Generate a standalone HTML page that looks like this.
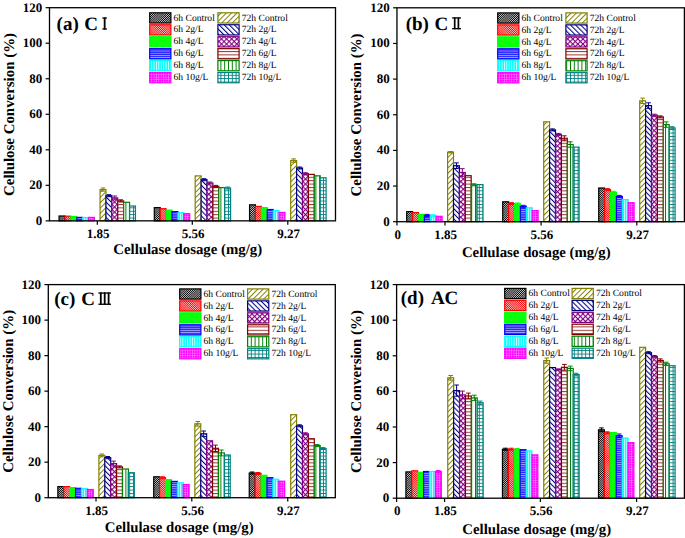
<!DOCTYPE html>
<html><head><meta charset="utf-8"><style>
html,body{margin:0;padding:0;background:#fff;}
svg{display:block;}
</style></head><body>
<svg width="685" height="538" viewBox="0 0 685 538" text-rendering="geometricPrecision">
<defs>
<pattern id="p60" patternUnits="userSpaceOnUse" width="1.5" height="1.5" patternTransform="rotate(45)"><rect width="1.5" height="1.5" fill="#000"/><rect x="0" width="0.7" height="1.5" fill="#fff" fill-opacity="0.85"/></pattern>
<pattern id="p61" patternUnits="userSpaceOnUse" width="1.5" height="1.5" patternTransform="rotate(-45)"><rect width="1.5" height="1.5" fill="#f00"/><rect x="0" width="0.65" height="1.5" fill="#fff" fill-opacity="0.85"/></pattern>
<pattern id="p62" patternUnits="userSpaceOnUse" width="2" height="2"><rect width="2" height="2" fill="#0f0"/><rect x="0.5" y="0.5" width="1" height="1" fill="#fff" fill-opacity="0.18"/></pattern>
<pattern id="p63" patternUnits="userSpaceOnUse" width="3" height="2.2"><rect width="3" height="2.2" fill="#22f"/><rect y="0" width="3" height="0.9" fill="#fff" fill-opacity="0.6"/></pattern>
<pattern id="p64" patternUnits="userSpaceOnUse" width="2.4" height="3"><rect width="2.4" height="3" fill="#0ff"/><rect x="0" width="0.9" height="3" fill="#fff" fill-opacity="0.85"/></pattern>
<pattern id="p65" patternUnits="userSpaceOnUse" width="2.4" height="2.4"><rect width="2.4" height="2.4" fill="#f0f"/><rect x="0" width="0.6" height="2.4" fill="#fff" fill-opacity="0.45"/><rect y="0" width="2.4" height="0.6" fill="#fff" fill-opacity="0.45"/></pattern>
<pattern id="p70" patternUnits="userSpaceOnUse" width="3.75" height="3.75" patternTransform="rotate(45)"><rect width="3.75" height="3.75" fill="#fff"/><rect x="0" width="1.0" height="3.75" fill="#808000"/></pattern>
<pattern id="p71" patternUnits="userSpaceOnUse" width="3.6" height="3.6" patternTransform="rotate(-45)"><rect width="3.6" height="3.6" fill="#fff"/><rect x="0" width="1.05" height="3.6" fill="#000080"/></pattern>
<pattern id="p72" patternUnits="userSpaceOnUse" width="3.6" height="3.6" patternTransform="rotate(45)"><rect width="3.6" height="3.6" fill="#fff"/><rect x="0" width="1.1" height="3.6" fill="#800080"/><rect y="0" width="3.6" height="1.1" fill="#800080"/></pattern>
<pattern id="p73" patternUnits="userSpaceOnUse" width="4" height="3.4"><rect width="4" height="3.4" fill="#fff"/><rect y="0" width="4" height="1.0" fill="#800000" fill-opacity="0.8"/></pattern>
<pattern id="p74" patternUnits="userSpaceOnUse" width="3.8" height="4"><rect width="3.8" height="4" fill="#fff"/><rect x="0" width="1.0" height="4" fill="#008000"/></pattern>
<pattern id="p75" patternUnits="userSpaceOnUse" width="3.8" height="3.4"><rect width="3.8" height="3.4" fill="#fff"/><rect x="0" width="0.9" height="3.4" fill="#008080"/><rect y="0" width="3.8" height="0.9" fill="#008080"/></pattern>
</defs>
<rect width="685" height="538" fill="#fff"/>
<rect x="59.05" y="216" width="5.9" height="4.85" fill="url(#p60)" stroke="#000000" stroke-width="1.2"/>
<rect x="64.95" y="216.2" width="5.9" height="4.65" fill="url(#p61)" stroke="#ff0000" stroke-width="1.2"/>
<rect x="70.85" y="216.6" width="5.9" height="4.25" fill="url(#p62)" stroke="#00ff00" stroke-width="1.2"/>
<rect x="76.75" y="217.4" width="5.9" height="3.45" fill="url(#p63)" stroke="#0000ff" stroke-width="1.2"/>
<rect x="82.65" y="217.5" width="5.9" height="3.35" fill="url(#p64)" stroke="#00ffff" stroke-width="1.2"/>
<rect x="88.55" y="217.4" width="5.9" height="3.45" fill="url(#p65)" stroke="#ff00ff" stroke-width="1.2"/>
<rect x="100.05" y="189.6" width="5.9" height="31.25" fill="url(#p70)" stroke="#808000" stroke-width="1.2"/>
<path d="M103 188V191.2M100.7 188H105.3M100.7 191.2H105.3" stroke="#808000" stroke-width="1" fill="none"/>
<rect x="105.95" y="195.7" width="5.9" height="25.15" fill="url(#p71)" stroke="#000080" stroke-width="1.2"/>
<path d="M108.9 194.7V196.7M106.6 194.7H111.2M106.6 196.7H111.2" stroke="#000080" stroke-width="1" fill="none"/>
<rect x="111.85" y="197.9" width="5.9" height="22.95" fill="url(#p72)" stroke="#800080" stroke-width="1.2"/>
<path d="M114.8 196V199.8M112.5 196H117.1M112.5 199.8H117.1" stroke="#800080" stroke-width="1" fill="none"/>
<rect x="117.75" y="200.9" width="5.9" height="19.95" fill="url(#p73)" stroke="#800000" stroke-width="1.2"/>
<path d="M120.7 199.8V202M118.4 199.8H123M118.4 202H123" stroke="#800000" stroke-width="1" fill="none"/>
<rect x="123.65" y="202.3" width="5.9" height="18.55" fill="url(#p74)" stroke="#008000" stroke-width="1.2"/>
<rect x="129.55" y="206" width="5.9" height="14.85" fill="url(#p75)" stroke="#008080" stroke-width="1.2"/>
<rect x="154.3" y="207.6" width="5.9" height="13.25" fill="url(#p60)" stroke="#000000" stroke-width="1.2"/>
<rect x="160.2" y="208.7" width="5.9" height="12.15" fill="url(#p61)" stroke="#ff0000" stroke-width="1.2"/>
<rect x="166.1" y="210.1" width="5.9" height="10.75" fill="url(#p62)" stroke="#00ff00" stroke-width="1.2"/>
<rect x="172" y="211.6" width="5.9" height="9.25" fill="url(#p63)" stroke="#0000ff" stroke-width="1.2"/>
<rect x="177.9" y="212.7" width="5.9" height="8.15" fill="url(#p64)" stroke="#00ffff" stroke-width="1.2"/>
<rect x="183.8" y="213.7" width="5.9" height="7.15" fill="url(#p65)" stroke="#ff00ff" stroke-width="1.2"/>
<rect x="195.2" y="175.9" width="5.9" height="44.95" fill="url(#p70)" stroke="#808000" stroke-width="1.2"/>
<rect x="201.1" y="179.7" width="5.9" height="41.15" fill="url(#p71)" stroke="#000080" stroke-width="1.2"/>
<path d="M204.05 178.7V180.7M201.75 178.7H206.35M201.75 180.7H206.35" stroke="#000080" stroke-width="1" fill="none"/>
<rect x="207" y="183" width="5.9" height="37.85" fill="url(#p72)" stroke="#800080" stroke-width="1.2"/>
<path d="M209.95 182V184M207.65 182H212.25M207.65 184H212.25" stroke="#800080" stroke-width="1" fill="none"/>
<rect x="212.9" y="186.4" width="5.9" height="34.45" fill="url(#p73)" stroke="#800000" stroke-width="1.2"/>
<path d="M215.85 185.4V187.4M213.55 185.4H218.15M213.55 187.4H218.15" stroke="#800000" stroke-width="1" fill="none"/>
<rect x="218.8" y="187.6" width="5.9" height="33.25" fill="url(#p74)" stroke="#008000" stroke-width="1.2"/>
<rect x="224.7" y="188" width="5.9" height="32.85" fill="url(#p75)" stroke="#008080" stroke-width="1.2"/>
<path d="M227.65 187V189M225.35 187H229.95M225.35 189H229.95" stroke="#008080" stroke-width="1" fill="none"/>
<rect x="249.55" y="204.8" width="5.9" height="16.05" fill="url(#p60)" stroke="#000000" stroke-width="1.2"/>
<rect x="255.45" y="206.4" width="5.9" height="14.45" fill="url(#p61)" stroke="#ff0000" stroke-width="1.2"/>
<rect x="261.35" y="207.6" width="5.9" height="13.25" fill="url(#p62)" stroke="#00ff00" stroke-width="1.2"/>
<rect x="267.25" y="209.5" width="5.9" height="11.35" fill="url(#p63)" stroke="#0000ff" stroke-width="1.2"/>
<rect x="273.15" y="210.6" width="5.9" height="10.25" fill="url(#p64)" stroke="#00ffff" stroke-width="1.2"/>
<rect x="279.05" y="212.4" width="5.9" height="8.45" fill="url(#p65)" stroke="#ff00ff" stroke-width="1.2"/>
<rect x="290.7" y="160.6" width="5.9" height="60.25" fill="url(#p70)" stroke="#808000" stroke-width="1.2"/>
<path d="M293.65 158.9V162.3M291.35 158.9H295.95M291.35 162.3H295.95" stroke="#808000" stroke-width="1" fill="none"/>
<rect x="296.6" y="168" width="5.9" height="52.85" fill="url(#p71)" stroke="#000080" stroke-width="1.2"/>
<path d="M299.55 167V169M297.25 167H301.85M297.25 169H301.85" stroke="#000080" stroke-width="1" fill="none"/>
<rect x="302.5" y="173.7" width="5.9" height="47.15" fill="url(#p72)" stroke="#800080" stroke-width="1.2"/>
<path d="M305.45 172.7V174.7M303.15 172.7H307.75M303.15 174.7H307.75" stroke="#800080" stroke-width="1" fill="none"/>
<rect x="308.4" y="174.4" width="5.9" height="46.45" fill="url(#p73)" stroke="#800000" stroke-width="1.2"/>
<rect x="314.3" y="175.8" width="5.9" height="45.05" fill="url(#p74)" stroke="#008000" stroke-width="1.2"/>
<rect x="320.2" y="177.8" width="5.9" height="43.05" fill="url(#p75)" stroke="#008080" stroke-width="1.2"/>
<rect x="49.5" y="7.7" width="286" height="213.15" fill="none" stroke="#000" stroke-width="1.3"/>
<path d="M45.6 220.85H49.5" stroke="#000" stroke-width="1.2"/>
<text x="42.2" y="224.75" text-anchor="end" font-size="13" font-weight="bold" font-family="'Liberation Serif', serif">0</text>
<path d="M45.6 185.32H49.5" stroke="#000" stroke-width="1.2"/>
<text x="42.2" y="189.22" text-anchor="end" font-size="13" font-weight="bold" font-family="'Liberation Serif', serif">20</text>
<path d="M45.6 149.8H49.5" stroke="#000" stroke-width="1.2"/>
<text x="42.2" y="153.7" text-anchor="end" font-size="13" font-weight="bold" font-family="'Liberation Serif', serif">40</text>
<path d="M45.6 114.27H49.5" stroke="#000" stroke-width="1.2"/>
<text x="42.2" y="118.17" text-anchor="end" font-size="13" font-weight="bold" font-family="'Liberation Serif', serif">60</text>
<path d="M45.6 78.75H49.5" stroke="#000" stroke-width="1.2"/>
<text x="42.2" y="82.65" text-anchor="end" font-size="13" font-weight="bold" font-family="'Liberation Serif', serif">80</text>
<path d="M45.6 43.22H49.5" stroke="#000" stroke-width="1.2"/>
<text x="42.2" y="47.12" text-anchor="end" font-size="13" font-weight="bold" font-family="'Liberation Serif', serif">100</text>
<path d="M45.6 7.7H49.5" stroke="#000" stroke-width="1.2"/>
<text x="42.2" y="11.6" text-anchor="end" font-size="13" font-weight="bold" font-family="'Liberation Serif', serif">120</text>
<path d="M97.3 220.85V224.75" stroke="#000" stroke-width="1.2"/>
<text x="98" y="237.95" text-anchor="middle" font-size="13" font-weight="bold" font-family="'Liberation Serif', serif">1.85</text>
<path d="M192.3 220.85V224.75" stroke="#000" stroke-width="1.2"/>
<text x="193" y="237.95" text-anchor="middle" font-size="13" font-weight="bold" font-family="'Liberation Serif', serif">5.56</text>
<path d="M287.8 220.85V224.75" stroke="#000" stroke-width="1.2"/>
<text x="288.5" y="237.95" text-anchor="middle" font-size="13" font-weight="bold" font-family="'Liberation Serif', serif">9.27</text>
<text x="113.3" y="254.3" font-size="14.8" font-weight="bold" font-family="'Liberation Serif', serif">Cellulase dosage (mg/g)</text>
<text transform="translate(14,114.47) rotate(-90)" x="0" y="0" text-anchor="middle" font-size="14.9" font-weight="bold" font-family="'Liberation Serif', serif">Cellulose Conversion (%)</text>
<text x="56.6" y="29.6" font-size="19" font-weight="bold" font-family="'Liberation Serif', serif">(a)</text>
<text x="84.3" y="29.6" font-size="19" font-weight="bold" font-family="'Liberation Serif', serif">C</text>
<rect x="103.75" y="17.4" width="1.8" height="12.2" fill="#000"/>
<rect x="102.4" y="17.4" width="4.5" height="1.3" fill="#000"/>
<rect x="102.4" y="28.3" width="4.5" height="1.3" fill="#000"/>
<rect x="149.7" y="12.8" width="21.2" height="10.2" fill="url(#p60)" stroke="#000000" stroke-width="1.2"/>
<text x="173.5" y="20.5" font-size="9.6" font-family="'Liberation Serif', serif" fill="#000">6h Control</text>
<rect x="217.9" y="12.8" width="21.2" height="10.2" fill="url(#p70)" stroke="#808000" stroke-width="1.2"/>
<text x="241.7" y="20.5" font-size="9.6" font-family="'Liberation Serif', serif" fill="#000">72h Control</text>
<rect x="149.7" y="24.75" width="21.2" height="10.2" fill="url(#p61)" stroke="#ff0000" stroke-width="1.2"/>
<text x="173.5" y="32.45" font-size="9.6" font-family="'Liberation Serif', serif" fill="#000">6h 2g/L</text>
<rect x="217.9" y="24.75" width="21.2" height="10.2" fill="url(#p71)" stroke="#000080" stroke-width="1.2"/>
<text x="241.7" y="32.45" font-size="9.6" font-family="'Liberation Serif', serif" fill="#000">72h 2g/L</text>
<rect x="149.7" y="36.7" width="21.2" height="10.2" fill="url(#p62)" stroke="#00ff00" stroke-width="1.2"/>
<text x="173.5" y="44.4" font-size="9.6" font-family="'Liberation Serif', serif" fill="#000">6h 4g/L</text>
<rect x="217.9" y="36.7" width="21.2" height="10.2" fill="url(#p72)" stroke="#800080" stroke-width="1.2"/>
<text x="241.7" y="44.4" font-size="9.6" font-family="'Liberation Serif', serif" fill="#000">72h 4g/L</text>
<rect x="149.7" y="48.65" width="21.2" height="10.2" fill="url(#p63)" stroke="#0000ff" stroke-width="1.2"/>
<text x="173.5" y="56.35" font-size="9.6" font-family="'Liberation Serif', serif" fill="#000">6h 6g/L</text>
<rect x="217.9" y="48.65" width="21.2" height="10.2" fill="url(#p73)" stroke="#800000" stroke-width="1.2"/>
<text x="241.7" y="56.35" font-size="9.6" font-family="'Liberation Serif', serif" fill="#000">72h 6g/L</text>
<rect x="149.7" y="60.6" width="21.2" height="10.2" fill="url(#p64)" stroke="#00ffff" stroke-width="1.2"/>
<text x="173.5" y="68.3" font-size="9.6" font-family="'Liberation Serif', serif" fill="#000">6h 8g/L</text>
<rect x="217.9" y="60.6" width="21.2" height="10.2" fill="url(#p74)" stroke="#008000" stroke-width="1.2"/>
<text x="241.7" y="68.3" font-size="9.6" font-family="'Liberation Serif', serif" fill="#000">72h 8g/L</text>
<rect x="149.7" y="72.55" width="21.2" height="10.2" fill="url(#p65)" stroke="#ff00ff" stroke-width="1.2"/>
<text x="173.5" y="80.25" font-size="9.6" font-family="'Liberation Serif', serif" fill="#000">6h 10g/L</text>
<rect x="217.9" y="72.55" width="21.2" height="10.2" fill="url(#p75)" stroke="#008080" stroke-width="1.2"/>
<text x="241.7" y="80.25" font-size="9.6" font-family="'Liberation Serif', serif" fill="#000">72h 10g/L</text>
<rect x="406.7" y="211.6" width="5.9" height="10.1" fill="url(#p60)" stroke="#000000" stroke-width="1.2"/>
<rect x="412.6" y="212.6" width="5.9" height="9.1" fill="url(#p61)" stroke="#ff0000" stroke-width="1.2"/>
<rect x="418.5" y="214.3" width="5.9" height="7.4" fill="url(#p62)" stroke="#00ff00" stroke-width="1.2"/>
<rect x="424.4" y="215.4" width="5.9" height="6.3" fill="url(#p63)" stroke="#0000ff" stroke-width="1.2"/>
<path d="M427.35 214.4V216.4M425.05 214.4H429.65M425.05 216.4H429.65" stroke="#0000ff" stroke-width="1" fill="none"/>
<rect x="430.3" y="215.7" width="5.9" height="6" fill="url(#p64)" stroke="#00ffff" stroke-width="1.2"/>
<path d="M433.25 214.7V216.7M430.95 214.7H435.55M430.95 216.7H435.55" stroke="#00ffff" stroke-width="1" fill="none"/>
<rect x="436.2" y="216.3" width="5.9" height="5.4" fill="url(#p65)" stroke="#ff00ff" stroke-width="1.2"/>
<rect x="447.6" y="152.2" width="5.9" height="69.5" fill="url(#p70)" stroke="#808000" stroke-width="1.2"/>
<path d="M450.55 151.5V152.9M448.25 151.5H452.85M448.25 152.9H452.85" stroke="#808000" stroke-width="1" fill="none"/>
<rect x="453.5" y="165.7" width="5.9" height="56" fill="url(#p71)" stroke="#000080" stroke-width="1.2"/>
<path d="M456.45 162.9V168.5M454.15 162.9H458.75M454.15 168.5H458.75" stroke="#000080" stroke-width="1" fill="none"/>
<rect x="459.4" y="172.5" width="5.9" height="49.2" fill="url(#p72)" stroke="#800080" stroke-width="1.2"/>
<path d="M462.35 168.7V176.3M460.05 168.7H464.65M460.05 176.3H464.65" stroke="#800080" stroke-width="1" fill="none"/>
<rect x="465.3" y="175.7" width="5.9" height="46" fill="url(#p73)" stroke="#800000" stroke-width="1.2"/>
<rect x="471.2" y="184.8" width="5.9" height="36.9" fill="url(#p74)" stroke="#008000" stroke-width="1.2"/>
<path d="M474.15 183.8V185.8M471.85 183.8H476.45M471.85 185.8H476.45" stroke="#008000" stroke-width="1" fill="none"/>
<rect x="477.1" y="184.6" width="5.9" height="37.1" fill="url(#p75)" stroke="#008080" stroke-width="1.2"/>
<rect x="502.7" y="201.8" width="5.9" height="19.9" fill="url(#p60)" stroke="#000000" stroke-width="1.2"/>
<rect x="508.6" y="203.6" width="5.9" height="18.1" fill="url(#p61)" stroke="#ff0000" stroke-width="1.2"/>
<path d="M511.55 202.6V204.6M509.25 202.6H513.85M509.25 204.6H513.85" stroke="#ff0000" stroke-width="1" fill="none"/>
<rect x="514.5" y="203.9" width="5.9" height="17.8" fill="url(#p62)" stroke="#00ff00" stroke-width="1.2"/>
<path d="M517.45 202.9V204.9M515.15 202.9H519.75M515.15 204.9H519.75" stroke="#00ff00" stroke-width="1" fill="none"/>
<rect x="520.4" y="206.3" width="5.9" height="15.4" fill="url(#p63)" stroke="#0000ff" stroke-width="1.2"/>
<path d="M523.35 205.3V207.3M521.05 205.3H525.65M521.05 207.3H525.65" stroke="#0000ff" stroke-width="1" fill="none"/>
<rect x="526.3" y="207.8" width="5.9" height="13.9" fill="url(#p64)" stroke="#00ffff" stroke-width="1.2"/>
<rect x="532.2" y="210.6" width="5.9" height="11.1" fill="url(#p65)" stroke="#ff00ff" stroke-width="1.2"/>
<rect x="543.7" y="121.8" width="5.9" height="99.9" fill="url(#p70)" stroke="#808000" stroke-width="1.2"/>
<rect x="549.6" y="129.9" width="5.9" height="91.8" fill="url(#p71)" stroke="#000080" stroke-width="1.2"/>
<path d="M552.55 128.9V130.9M550.25 128.9H554.85M550.25 130.9H554.85" stroke="#000080" stroke-width="1" fill="none"/>
<rect x="555.5" y="134.4" width="5.9" height="87.3" fill="url(#p72)" stroke="#800080" stroke-width="1.2"/>
<path d="M558.45 133.4V135.4M556.15 133.4H560.75M556.15 135.4H560.75" stroke="#800080" stroke-width="1" fill="none"/>
<rect x="561.4" y="138.3" width="5.9" height="83.4" fill="url(#p73)" stroke="#800000" stroke-width="1.2"/>
<path d="M564.35 135.8V140.8M562.05 135.8H566.65M562.05 140.8H566.65" stroke="#800000" stroke-width="1" fill="none"/>
<rect x="567.3" y="144.5" width="5.9" height="77.2" fill="url(#p74)" stroke="#008000" stroke-width="1.2"/>
<path d="M570.25 141.8V147.2M567.95 141.8H572.55M567.95 147.2H572.55" stroke="#008000" stroke-width="1" fill="none"/>
<rect x="573.2" y="147.1" width="5.9" height="74.6" fill="url(#p75)" stroke="#008080" stroke-width="1.2"/>
<rect x="598.7" y="188" width="5.9" height="33.7" fill="url(#p60)" stroke="#000000" stroke-width="1.2"/>
<rect x="604.6" y="189.6" width="5.9" height="32.1" fill="url(#p61)" stroke="#ff0000" stroke-width="1.2"/>
<path d="M607.55 188.6V190.6M605.25 188.6H609.85M605.25 190.6H609.85" stroke="#ff0000" stroke-width="1" fill="none"/>
<rect x="610.5" y="192.3" width="5.9" height="29.4" fill="url(#p62)" stroke="#00ff00" stroke-width="1.2"/>
<path d="M613.45 191.3V193.3M611.15 191.3H615.75M611.15 193.3H615.75" stroke="#00ff00" stroke-width="1" fill="none"/>
<rect x="616.4" y="196.4" width="5.9" height="25.3" fill="url(#p63)" stroke="#0000ff" stroke-width="1.2"/>
<path d="M619.35 195.4V197.4M617.05 195.4H621.65M617.05 197.4H621.65" stroke="#0000ff" stroke-width="1" fill="none"/>
<rect x="622.3" y="199.6" width="5.9" height="22.1" fill="url(#p64)" stroke="#00ffff" stroke-width="1.2"/>
<rect x="628.2" y="202.7" width="5.9" height="19" fill="url(#p65)" stroke="#ff00ff" stroke-width="1.2"/>
<rect x="639.7" y="100.8" width="5.9" height="120.9" fill="url(#p70)" stroke="#808000" stroke-width="1.2"/>
<path d="M642.65 98.1V103.5M640.35 98.1H644.95M640.35 103.5H644.95" stroke="#808000" stroke-width="1" fill="none"/>
<rect x="645.6" y="105.6" width="5.9" height="116.1" fill="url(#p71)" stroke="#000080" stroke-width="1.2"/>
<path d="M648.55 102.8V108.4M646.25 102.8H650.85M646.25 108.4H650.85" stroke="#000080" stroke-width="1" fill="none"/>
<rect x="651.5" y="115.2" width="5.9" height="106.5" fill="url(#p72)" stroke="#800080" stroke-width="1.2"/>
<path d="M654.45 114.2V116.2M652.15 114.2H656.75M652.15 116.2H656.75" stroke="#800080" stroke-width="1" fill="none"/>
<rect x="657.4" y="116.9" width="5.9" height="104.8" fill="url(#p73)" stroke="#800000" stroke-width="1.2"/>
<path d="M660.35 115.9V117.9M658.05 115.9H662.65M658.05 117.9H662.65" stroke="#800000" stroke-width="1" fill="none"/>
<rect x="663.3" y="124.6" width="5.9" height="97.1" fill="url(#p74)" stroke="#008000" stroke-width="1.2"/>
<path d="M666.25 121.9V127.3M663.95 121.9H668.55M663.95 127.3H668.55" stroke="#008000" stroke-width="1" fill="none"/>
<rect x="669.2" y="127.9" width="5.9" height="93.8" fill="url(#p75)" stroke="#008080" stroke-width="1.2"/>
<path d="M672.15 126.7V129.1M669.85 126.7H674.45M669.85 129.1H674.45" stroke="#008080" stroke-width="1" fill="none"/>
<rect x="396.95" y="7.8" width="287.45" height="213.9" fill="none" stroke="#000" stroke-width="1.3"/>
<path d="M393.05 221.7H396.95" stroke="#000" stroke-width="1.2"/>
<text x="389.65" y="225.6" text-anchor="end" font-size="13" font-weight="bold" font-family="'Liberation Serif', serif">0</text>
<path d="M393.05 186.05H396.95" stroke="#000" stroke-width="1.2"/>
<text x="389.65" y="189.95" text-anchor="end" font-size="13" font-weight="bold" font-family="'Liberation Serif', serif">20</text>
<path d="M393.05 150.4H396.95" stroke="#000" stroke-width="1.2"/>
<text x="389.65" y="154.3" text-anchor="end" font-size="13" font-weight="bold" font-family="'Liberation Serif', serif">40</text>
<path d="M393.05 114.75H396.95" stroke="#000" stroke-width="1.2"/>
<text x="389.65" y="118.65" text-anchor="end" font-size="13" font-weight="bold" font-family="'Liberation Serif', serif">60</text>
<path d="M393.05 79.1H396.95" stroke="#000" stroke-width="1.2"/>
<text x="389.65" y="83" text-anchor="end" font-size="13" font-weight="bold" font-family="'Liberation Serif', serif">80</text>
<path d="M393.05 43.45H396.95" stroke="#000" stroke-width="1.2"/>
<text x="389.65" y="47.35" text-anchor="end" font-size="13" font-weight="bold" font-family="'Liberation Serif', serif">100</text>
<path d="M393.05 7.8H396.95" stroke="#000" stroke-width="1.2"/>
<text x="389.65" y="11.7" text-anchor="end" font-size="13" font-weight="bold" font-family="'Liberation Serif', serif">120</text>
<path d="M396.95 221.7V225.6" stroke="#000" stroke-width="1.2"/>
<text x="397.65" y="238.8" text-anchor="middle" font-size="13" font-weight="bold" font-family="'Liberation Serif', serif">0</text>
<path d="M445 221.7V225.6" stroke="#000" stroke-width="1.2"/>
<text x="445.7" y="238.8" text-anchor="middle" font-size="13" font-weight="bold" font-family="'Liberation Serif', serif">1.85</text>
<path d="M541.1 221.7V225.6" stroke="#000" stroke-width="1.2"/>
<text x="541.8" y="238.8" text-anchor="middle" font-size="13" font-weight="bold" font-family="'Liberation Serif', serif">5.56</text>
<path d="M636.8 221.7V225.6" stroke="#000" stroke-width="1.2"/>
<text x="637.5" y="238.8" text-anchor="middle" font-size="13" font-weight="bold" font-family="'Liberation Serif', serif">9.27</text>
<text x="461.9" y="257.4" font-size="14.8" font-weight="bold" font-family="'Liberation Serif', serif">Cellulase dosage (mg/g)</text>
<text transform="translate(361.2,114.95) rotate(-90)" x="0" y="0" text-anchor="middle" font-size="14.9" font-weight="bold" font-family="'Liberation Serif', serif">Cellulose Conversion (%)</text>
<text x="405.7" y="29.5" font-size="19" font-weight="bold" font-family="'Liberation Serif', serif">(b)</text>
<text x="434.6" y="29.5" font-size="19" font-weight="bold" font-family="'Liberation Serif', serif">C</text>
<rect x="453.85" y="17.3" width="1.7" height="12" fill="#000"/>
<rect x="457.55" y="17.3" width="1.7" height="12" fill="#000"/>
<rect x="452.1" y="17.3" width="8.9" height="1.3" fill="#000"/>
<rect x="452.1" y="28" width="8.9" height="1.3" fill="#000"/>
<rect x="497.7" y="12.9" width="21.2" height="10.2" fill="url(#p60)" stroke="#000000" stroke-width="1.2"/>
<text x="521.5" y="20.6" font-size="9.6" font-family="'Liberation Serif', serif" fill="#000">6h Control</text>
<rect x="565.9" y="12.9" width="21.2" height="10.2" fill="url(#p70)" stroke="#808000" stroke-width="1.2"/>
<text x="589.7" y="20.6" font-size="9.6" font-family="'Liberation Serif', serif" fill="#000">72h Control</text>
<rect x="497.7" y="24.85" width="21.2" height="10.2" fill="url(#p61)" stroke="#ff0000" stroke-width="1.2"/>
<text x="521.5" y="32.55" font-size="9.6" font-family="'Liberation Serif', serif" fill="#000">6h 2g/L</text>
<rect x="565.9" y="24.85" width="21.2" height="10.2" fill="url(#p71)" stroke="#000080" stroke-width="1.2"/>
<text x="589.7" y="32.55" font-size="9.6" font-family="'Liberation Serif', serif" fill="#000">72h 2g/L</text>
<rect x="497.7" y="36.8" width="21.2" height="10.2" fill="url(#p62)" stroke="#00ff00" stroke-width="1.2"/>
<text x="521.5" y="44.5" font-size="9.6" font-family="'Liberation Serif', serif" fill="#000">6h 4g/L</text>
<rect x="565.9" y="36.8" width="21.2" height="10.2" fill="url(#p72)" stroke="#800080" stroke-width="1.2"/>
<text x="589.7" y="44.5" font-size="9.6" font-family="'Liberation Serif', serif" fill="#000">72h 4g/L</text>
<rect x="497.7" y="48.75" width="21.2" height="10.2" fill="url(#p63)" stroke="#0000ff" stroke-width="1.2"/>
<text x="521.5" y="56.45" font-size="9.6" font-family="'Liberation Serif', serif" fill="#000">6h 6g/L</text>
<rect x="565.9" y="48.75" width="21.2" height="10.2" fill="url(#p73)" stroke="#800000" stroke-width="1.2"/>
<text x="589.7" y="56.45" font-size="9.6" font-family="'Liberation Serif', serif" fill="#000">72h 6g/L</text>
<rect x="497.7" y="60.7" width="21.2" height="10.2" fill="url(#p64)" stroke="#00ffff" stroke-width="1.2"/>
<text x="521.5" y="68.4" font-size="9.6" font-family="'Liberation Serif', serif" fill="#000">6h 8g/L</text>
<rect x="565.9" y="60.7" width="21.2" height="10.2" fill="url(#p74)" stroke="#008000" stroke-width="1.2"/>
<text x="589.7" y="68.4" font-size="9.6" font-family="'Liberation Serif', serif" fill="#000">72h 8g/L</text>
<rect x="497.7" y="72.65" width="21.2" height="10.2" fill="url(#p65)" stroke="#ff00ff" stroke-width="1.2"/>
<text x="521.5" y="80.35" font-size="9.6" font-family="'Liberation Serif', serif" fill="#000">6h 10g/L</text>
<rect x="565.9" y="72.65" width="21.2" height="10.2" fill="url(#p75)" stroke="#008080" stroke-width="1.2"/>
<text x="589.7" y="80.35" font-size="9.6" font-family="'Liberation Serif', serif" fill="#000">72h 10g/L</text>
<rect x="57.85" y="486.6" width="5.9" height="11.1" fill="url(#p60)" stroke="#000000" stroke-width="1.2"/>
<rect x="63.75" y="486.6" width="5.9" height="11.1" fill="url(#p61)" stroke="#ff0000" stroke-width="1.2"/>
<rect x="69.65" y="487.6" width="5.9" height="10.1" fill="url(#p62)" stroke="#00ff00" stroke-width="1.2"/>
<rect x="75.55" y="488.3" width="5.9" height="9.4" fill="url(#p63)" stroke="#0000ff" stroke-width="1.2"/>
<rect x="81.45" y="488.7" width="5.9" height="9" fill="url(#p64)" stroke="#00ffff" stroke-width="1.2"/>
<rect x="87.35" y="489.5" width="5.9" height="8.2" fill="url(#p65)" stroke="#ff00ff" stroke-width="1.2"/>
<rect x="98.9" y="455.4" width="5.9" height="42.3" fill="url(#p70)" stroke="#808000" stroke-width="1.2"/>
<path d="M101.85 454V456.8M99.55 454H104.15M99.55 456.8H104.15" stroke="#808000" stroke-width="1" fill="none"/>
<rect x="104.8" y="457.6" width="5.9" height="40.1" fill="url(#p71)" stroke="#000080" stroke-width="1.2"/>
<path d="M107.75 456.5V458.7M105.45 456.5H110.05M105.45 458.7H110.05" stroke="#000080" stroke-width="1" fill="none"/>
<rect x="110.7" y="463.6" width="5.9" height="34.1" fill="url(#p72)" stroke="#800080" stroke-width="1.2"/>
<path d="M113.65 461.1V466.1M111.35 461.1H115.95M111.35 466.1H115.95" stroke="#800080" stroke-width="1" fill="none"/>
<rect x="116.6" y="466.9" width="5.9" height="30.8" fill="url(#p73)" stroke="#800000" stroke-width="1.2"/>
<path d="M119.55 465.9V467.9M117.25 465.9H121.85M117.25 467.9H121.85" stroke="#800000" stroke-width="1" fill="none"/>
<rect x="122.5" y="469" width="5.9" height="28.7" fill="url(#p74)" stroke="#008000" stroke-width="1.2"/>
<rect x="128.4" y="472.7" width="5.9" height="25" fill="url(#p75)" stroke="#008080" stroke-width="1.2"/>
<rect x="153.7" y="476.8" width="5.9" height="20.9" fill="url(#p60)" stroke="#000000" stroke-width="1.2"/>
<rect x="159.6" y="477.7" width="5.9" height="20" fill="url(#p61)" stroke="#ff0000" stroke-width="1.2"/>
<path d="M162.55 476.7V478.7M160.25 476.7H164.85M160.25 478.7H164.85" stroke="#ff0000" stroke-width="1" fill="none"/>
<rect x="165.5" y="479.7" width="5.9" height="18" fill="url(#p62)" stroke="#00ff00" stroke-width="1.2"/>
<rect x="171.4" y="481.4" width="5.9" height="16.3" fill="url(#p63)" stroke="#0000ff" stroke-width="1.2"/>
<rect x="177.3" y="482.8" width="5.9" height="14.9" fill="url(#p64)" stroke="#00ffff" stroke-width="1.2"/>
<rect x="183.2" y="484.5" width="5.9" height="13.2" fill="url(#p65)" stroke="#ff00ff" stroke-width="1.2"/>
<rect x="194.85" y="423.8" width="5.9" height="73.9" fill="url(#p70)" stroke="#808000" stroke-width="1.2"/>
<path d="M197.8 421.5V426.1M195.5 421.5H200.1M195.5 426.1H200.1" stroke="#808000" stroke-width="1" fill="none"/>
<rect x="200.75" y="433.8" width="5.9" height="63.9" fill="url(#p71)" stroke="#000080" stroke-width="1.2"/>
<path d="M203.7 431V436.6M201.4 431H206M201.4 436.6H206" stroke="#000080" stroke-width="1" fill="none"/>
<rect x="206.65" y="440.8" width="5.9" height="56.9" fill="url(#p72)" stroke="#800080" stroke-width="1.2"/>
<rect x="212.55" y="448.3" width="5.9" height="49.4" fill="url(#p73)" stroke="#800000" stroke-width="1.2"/>
<path d="M215.5 445.1V451.5M213.2 445.1H217.8M213.2 451.5H217.8" stroke="#800000" stroke-width="1" fill="none"/>
<rect x="218.45" y="452.9" width="5.9" height="44.8" fill="url(#p74)" stroke="#008000" stroke-width="1.2"/>
<path d="M221.4 450V455.8M219.1 450H223.7M219.1 455.8H223.7" stroke="#008000" stroke-width="1" fill="none"/>
<rect x="224.35" y="455" width="5.9" height="42.7" fill="url(#p75)" stroke="#008080" stroke-width="1.2"/>
<rect x="249.25" y="473" width="5.9" height="24.7" fill="url(#p60)" stroke="#000000" stroke-width="1.2"/>
<path d="M252.2 472V474M249.9 472H254.5M249.9 474H254.5" stroke="#000000" stroke-width="1" fill="none"/>
<rect x="255.15" y="473.5" width="5.9" height="24.2" fill="url(#p61)" stroke="#ff0000" stroke-width="1.2"/>
<path d="M258.1 472.5V474.5M255.8 472.5H260.4M255.8 474.5H260.4" stroke="#ff0000" stroke-width="1" fill="none"/>
<rect x="261.05" y="475.3" width="5.9" height="22.4" fill="url(#p62)" stroke="#00ff00" stroke-width="1.2"/>
<rect x="266.95" y="477.7" width="5.9" height="20" fill="url(#p63)" stroke="#0000ff" stroke-width="1.2"/>
<rect x="272.85" y="479.2" width="5.9" height="18.5" fill="url(#p64)" stroke="#00ffff" stroke-width="1.2"/>
<rect x="278.75" y="481.2" width="5.9" height="16.5" fill="url(#p65)" stroke="#ff00ff" stroke-width="1.2"/>
<rect x="290.7" y="414.7" width="5.9" height="83" fill="url(#p70)" stroke="#808000" stroke-width="1.2"/>
<rect x="296.6" y="425.8" width="5.9" height="71.9" fill="url(#p71)" stroke="#000080" stroke-width="1.2"/>
<path d="M299.55 424.8V426.8M297.25 424.8H301.85M297.25 426.8H301.85" stroke="#000080" stroke-width="1" fill="none"/>
<rect x="302.5" y="433.8" width="5.9" height="63.9" fill="url(#p72)" stroke="#800080" stroke-width="1.2"/>
<path d="M305.45 432.8V434.8M303.15 432.8H307.75M303.15 434.8H307.75" stroke="#800080" stroke-width="1" fill="none"/>
<rect x="308.4" y="438.7" width="5.9" height="59" fill="url(#p73)" stroke="#800000" stroke-width="1.2"/>
<rect x="314.3" y="445.6" width="5.9" height="52.1" fill="url(#p74)" stroke="#008000" stroke-width="1.2"/>
<path d="M317.25 444.6V446.6M314.95 444.6H319.55M314.95 446.6H319.55" stroke="#008000" stroke-width="1" fill="none"/>
<rect x="320.2" y="448.6" width="5.9" height="49.1" fill="url(#p75)" stroke="#008080" stroke-width="1.2"/>
<path d="M323.15 447.6V449.6M320.85 447.6H325.45M320.85 449.6H325.45" stroke="#008080" stroke-width="1" fill="none"/>
<rect x="48.3" y="284.6" width="287" height="213.1" fill="none" stroke="#000" stroke-width="1.3"/>
<path d="M44.4 497.7H48.3" stroke="#000" stroke-width="1.2"/>
<text x="41" y="501.6" text-anchor="end" font-size="13" font-weight="bold" font-family="'Liberation Serif', serif">0</text>
<path d="M44.4 462.18H48.3" stroke="#000" stroke-width="1.2"/>
<text x="41" y="466.08" text-anchor="end" font-size="13" font-weight="bold" font-family="'Liberation Serif', serif">20</text>
<path d="M44.4 426.67H48.3" stroke="#000" stroke-width="1.2"/>
<text x="41" y="430.57" text-anchor="end" font-size="13" font-weight="bold" font-family="'Liberation Serif', serif">40</text>
<path d="M44.4 391.15H48.3" stroke="#000" stroke-width="1.2"/>
<text x="41" y="395.05" text-anchor="end" font-size="13" font-weight="bold" font-family="'Liberation Serif', serif">60</text>
<path d="M44.4 355.63H48.3" stroke="#000" stroke-width="1.2"/>
<text x="41" y="359.53" text-anchor="end" font-size="13" font-weight="bold" font-family="'Liberation Serif', serif">80</text>
<path d="M44.4 320.12H48.3" stroke="#000" stroke-width="1.2"/>
<text x="41" y="324.02" text-anchor="end" font-size="13" font-weight="bold" font-family="'Liberation Serif', serif">100</text>
<path d="M44.4 284.6H48.3" stroke="#000" stroke-width="1.2"/>
<text x="41" y="288.5" text-anchor="end" font-size="13" font-weight="bold" font-family="'Liberation Serif', serif">120</text>
<path d="M96 497.7V501.6" stroke="#000" stroke-width="1.2"/>
<text x="96.7" y="514.8" text-anchor="middle" font-size="13" font-weight="bold" font-family="'Liberation Serif', serif">1.85</text>
<path d="M191.8 497.7V501.6" stroke="#000" stroke-width="1.2"/>
<text x="192.5" y="514.8" text-anchor="middle" font-size="13" font-weight="bold" font-family="'Liberation Serif', serif">5.56</text>
<path d="M287.75 497.7V501.6" stroke="#000" stroke-width="1.2"/>
<text x="288.45" y="514.8" text-anchor="middle" font-size="13" font-weight="bold" font-family="'Liberation Serif', serif">9.27</text>
<text x="104.8" y="532" font-size="14.8" font-weight="bold" font-family="'Liberation Serif', serif">Cellulase dosage (mg/g)</text>
<text transform="translate(12.8,391.35) rotate(-90)" x="0" y="0" text-anchor="middle" font-size="14.9" font-weight="bold" font-family="'Liberation Serif', serif">Cellulose Conversion (%)</text>
<text x="54.2" y="305.3" font-size="19" font-weight="bold" font-family="'Liberation Serif', serif">(c)</text>
<text x="81.2" y="305.3" font-size="19" font-weight="bold" font-family="'Liberation Serif', serif">C</text>
<rect x="99.9" y="292.4" width="1.8" height="12.5" fill="#000"/>
<rect x="103.8" y="292.4" width="1.8" height="12.5" fill="#000"/>
<rect x="107.7" y="292.4" width="1.8" height="12.5" fill="#000"/>
<rect x="98.4" y="292.4" width="12.6" height="1.3" fill="#000"/>
<rect x="98.4" y="303.6" width="12.6" height="1.3" fill="#000"/>
<rect x="179.7" y="288.9" width="21.2" height="10.2" fill="url(#p60)" stroke="#000000" stroke-width="1.2"/>
<text x="203.5" y="296.6" font-size="9.6" font-family="'Liberation Serif', serif" fill="#000">6h Control</text>
<rect x="247.6" y="288.9" width="21.2" height="10.2" fill="url(#p70)" stroke="#808000" stroke-width="1.2"/>
<text x="271.4" y="296.6" font-size="9.6" font-family="'Liberation Serif', serif" fill="#000">72h Control</text>
<rect x="179.7" y="300.85" width="21.2" height="10.2" fill="url(#p61)" stroke="#ff0000" stroke-width="1.2"/>
<text x="203.5" y="308.55" font-size="9.6" font-family="'Liberation Serif', serif" fill="#000">6h 2g/L</text>
<rect x="247.6" y="300.85" width="21.2" height="10.2" fill="url(#p71)" stroke="#000080" stroke-width="1.2"/>
<text x="271.4" y="308.55" font-size="9.6" font-family="'Liberation Serif', serif" fill="#000">72h 2g/L</text>
<rect x="179.7" y="312.8" width="21.2" height="10.2" fill="url(#p62)" stroke="#00ff00" stroke-width="1.2"/>
<text x="203.5" y="320.5" font-size="9.6" font-family="'Liberation Serif', serif" fill="#000">6h 4g/L</text>
<rect x="247.6" y="312.8" width="21.2" height="10.2" fill="url(#p72)" stroke="#800080" stroke-width="1.2"/>
<text x="271.4" y="320.5" font-size="9.6" font-family="'Liberation Serif', serif" fill="#000">72h 4g/L</text>
<rect x="179.7" y="324.75" width="21.2" height="10.2" fill="url(#p63)" stroke="#0000ff" stroke-width="1.2"/>
<text x="203.5" y="332.45" font-size="9.6" font-family="'Liberation Serif', serif" fill="#000">6h 6g/L</text>
<rect x="247.6" y="324.75" width="21.2" height="10.2" fill="url(#p73)" stroke="#800000" stroke-width="1.2"/>
<text x="271.4" y="332.45" font-size="9.6" font-family="'Liberation Serif', serif" fill="#000">72h 6g/L</text>
<rect x="179.7" y="336.7" width="21.2" height="10.2" fill="url(#p64)" stroke="#00ffff" stroke-width="1.2"/>
<text x="203.5" y="344.4" font-size="9.6" font-family="'Liberation Serif', serif" fill="#000">6h 8g/L</text>
<rect x="247.6" y="336.7" width="21.2" height="10.2" fill="url(#p74)" stroke="#008000" stroke-width="1.2"/>
<text x="271.4" y="344.4" font-size="9.6" font-family="'Liberation Serif', serif" fill="#000">72h 8g/L</text>
<rect x="179.7" y="348.65" width="21.2" height="10.2" fill="url(#p65)" stroke="#ff00ff" stroke-width="1.2"/>
<text x="203.5" y="356.35" font-size="9.6" font-family="'Liberation Serif', serif" fill="#000">6h 10g/L</text>
<rect x="247.6" y="348.65" width="21.2" height="10.2" fill="url(#p75)" stroke="#008080" stroke-width="1.2"/>
<text x="271.4" y="356.35" font-size="9.6" font-family="'Liberation Serif', serif" fill="#000">72h 10g/L</text>
<rect x="405.9" y="471.9" width="5.9" height="26.3" fill="url(#p60)" stroke="#000000" stroke-width="1.2"/>
<rect x="411.8" y="470.8" width="5.9" height="27.4" fill="url(#p61)" stroke="#ff0000" stroke-width="1.2"/>
<rect x="417.7" y="472.3" width="5.9" height="25.9" fill="url(#p62)" stroke="#00ff00" stroke-width="1.2"/>
<rect x="423.6" y="471.5" width="5.9" height="26.7" fill="url(#p63)" stroke="#0000ff" stroke-width="1.2"/>
<rect x="429.5" y="471.5" width="5.9" height="26.7" fill="url(#p64)" stroke="#00ffff" stroke-width="1.2"/>
<rect x="435.4" y="471.5" width="5.9" height="26.7" fill="url(#p65)" stroke="#ff00ff" stroke-width="1.2"/>
<path d="M438.35 470.5V472.5M436.05 470.5H440.65M436.05 472.5H440.65" stroke="#ff00ff" stroke-width="1" fill="none"/>
<rect x="447.75" y="377.8" width="5.9" height="120.4" fill="url(#p70)" stroke="#808000" stroke-width="1.2"/>
<path d="M450.7 375.5V380.1M448.4 375.5H453M448.4 380.1H453" stroke="#808000" stroke-width="1" fill="none"/>
<rect x="453.65" y="390.6" width="5.9" height="107.6" fill="url(#p71)" stroke="#000080" stroke-width="1.2"/>
<path d="M456.6 385V396.2M454.3 385H458.9M454.3 396.2H458.9" stroke="#000080" stroke-width="1" fill="none"/>
<rect x="459.55" y="394.9" width="5.9" height="103.3" fill="url(#p72)" stroke="#800080" stroke-width="1.2"/>
<path d="M462.5 391.1V398.7M460.2 391.1H464.8M460.2 398.7H464.8" stroke="#800080" stroke-width="1" fill="none"/>
<rect x="465.45" y="396" width="5.9" height="102.2" fill="url(#p73)" stroke="#800000" stroke-width="1.2"/>
<path d="M468.4 393.1V398.9M466.1 393.1H470.7M466.1 398.9H470.7" stroke="#800000" stroke-width="1" fill="none"/>
<rect x="471.35" y="397.9" width="5.9" height="100.3" fill="url(#p74)" stroke="#008000" stroke-width="1.2"/>
<path d="M474.3 395.2V400.6M472 395.2H476.6M472 400.6H476.6" stroke="#008000" stroke-width="1" fill="none"/>
<rect x="477.25" y="402.7" width="5.9" height="95.5" fill="url(#p75)" stroke="#008080" stroke-width="1.2"/>
<path d="M480.2 401.1V404.3M477.9 401.1H482.5M477.9 404.3H482.5" stroke="#008080" stroke-width="1" fill="none"/>
<rect x="502.45" y="449.2" width="5.9" height="49" fill="url(#p60)" stroke="#000000" stroke-width="1.2"/>
<path d="M505.4 448.2V450.2M503.1 448.2H507.7M503.1 450.2H507.7" stroke="#000000" stroke-width="1" fill="none"/>
<rect x="508.35" y="449.2" width="5.9" height="49" fill="url(#p61)" stroke="#ff0000" stroke-width="1.2"/>
<path d="M511.3 448.2V450.2M509 448.2H513.6M509 450.2H513.6" stroke="#ff0000" stroke-width="1" fill="none"/>
<rect x="514.25" y="449.5" width="5.9" height="48.7" fill="url(#p62)" stroke="#00ff00" stroke-width="1.2"/>
<path d="M517.2 448.5V450.5M514.9 448.5H519.5M514.9 450.5H519.5" stroke="#00ff00" stroke-width="1" fill="none"/>
<rect x="520.15" y="449.7" width="5.9" height="48.5" fill="url(#p63)" stroke="#0000ff" stroke-width="1.2"/>
<rect x="526.05" y="450.9" width="5.9" height="47.3" fill="url(#p64)" stroke="#00ffff" stroke-width="1.2"/>
<rect x="531.95" y="454.9" width="5.9" height="43.3" fill="url(#p65)" stroke="#ff00ff" stroke-width="1.2"/>
<rect x="543.75" y="360.6" width="5.9" height="137.6" fill="url(#p70)" stroke="#808000" stroke-width="1.2"/>
<path d="M546.7 358V363.2M544.4 358H549M544.4 363.2H549" stroke="#808000" stroke-width="1" fill="none"/>
<rect x="549.65" y="367.6" width="5.9" height="130.6" fill="url(#p71)" stroke="#000080" stroke-width="1.2"/>
<rect x="555.55" y="369.5" width="5.9" height="128.7" fill="url(#p72)" stroke="#800080" stroke-width="1.2"/>
<path d="M558.5 368.9V370.1M556.2 368.9H560.8M556.2 370.1H560.8" stroke="#800080" stroke-width="1" fill="none"/>
<rect x="561.45" y="367.3" width="5.9" height="130.9" fill="url(#p73)" stroke="#800000" stroke-width="1.2"/>
<path d="M564.4 364.4V370.2M562.1 364.4H566.7M562.1 370.2H566.7" stroke="#800000" stroke-width="1" fill="none"/>
<rect x="567.35" y="368.4" width="5.9" height="129.8" fill="url(#p74)" stroke="#008000" stroke-width="1.2"/>
<path d="M570.3 366.1V370.7M568 366.1H572.6M568 370.7H572.6" stroke="#008000" stroke-width="1" fill="none"/>
<rect x="573.25" y="374.6" width="5.9" height="123.6" fill="url(#p75)" stroke="#008080" stroke-width="1.2"/>
<path d="M576.2 373.3V375.9M573.9 373.3H578.5M573.9 375.9H578.5" stroke="#008080" stroke-width="1" fill="none"/>
<rect x="598.5" y="429.8" width="5.9" height="68.4" fill="url(#p60)" stroke="#000000" stroke-width="1.2"/>
<path d="M601.45 427.9V431.7M599.15 427.9H603.75M599.15 431.7H603.75" stroke="#000000" stroke-width="1" fill="none"/>
<rect x="604.4" y="432.8" width="5.9" height="65.4" fill="url(#p61)" stroke="#ff0000" stroke-width="1.2"/>
<path d="M607.35 431.8V433.8M605.05 431.8H609.65M605.05 433.8H609.65" stroke="#ff0000" stroke-width="1" fill="none"/>
<rect x="610.3" y="432.6" width="5.9" height="65.6" fill="url(#p62)" stroke="#00ff00" stroke-width="1.2"/>
<rect x="616.2" y="435.7" width="5.9" height="62.5" fill="url(#p63)" stroke="#0000ff" stroke-width="1.2"/>
<path d="M619.15 434V437.4M616.85 434H621.45M616.85 437.4H621.45" stroke="#0000ff" stroke-width="1" fill="none"/>
<rect x="622.1" y="438" width="5.9" height="60.2" fill="url(#p64)" stroke="#00ffff" stroke-width="1.2"/>
<rect x="628" y="442.6" width="5.9" height="55.6" fill="url(#p65)" stroke="#ff00ff" stroke-width="1.2"/>
<rect x="639.7" y="347.3" width="5.9" height="150.9" fill="url(#p70)" stroke="#808000" stroke-width="1.2"/>
<rect x="645.6" y="352.7" width="5.9" height="145.5" fill="url(#p71)" stroke="#000080" stroke-width="1.2"/>
<path d="M648.55 351.7V353.7M646.25 351.7H650.85M646.25 353.7H650.85" stroke="#000080" stroke-width="1" fill="none"/>
<rect x="651.5" y="356.4" width="5.9" height="141.8" fill="url(#p72)" stroke="#800080" stroke-width="1.2"/>
<path d="M654.45 355.5V357.3M652.15 355.5H656.75M652.15 357.3H656.75" stroke="#800080" stroke-width="1" fill="none"/>
<rect x="657.4" y="360.5" width="5.9" height="137.7" fill="url(#p73)" stroke="#800000" stroke-width="1.2"/>
<path d="M660.35 358.9V362.1M658.05 358.9H662.65M658.05 362.1H662.65" stroke="#800000" stroke-width="1" fill="none"/>
<rect x="663.3" y="363.8" width="5.9" height="134.4" fill="url(#p74)" stroke="#008000" stroke-width="1.2"/>
<path d="M666.25 362.2V365.4M663.95 362.2H668.55M663.95 365.4H668.55" stroke="#008000" stroke-width="1" fill="none"/>
<rect x="669.2" y="365.7" width="5.9" height="132.5" fill="url(#p75)" stroke="#008080" stroke-width="1.2"/>
<rect x="396.6" y="284.6" width="287.8" height="213.6" fill="none" stroke="#000" stroke-width="1.3"/>
<path d="M392.7 498.2H396.6" stroke="#000" stroke-width="1.2"/>
<text x="389.3" y="502.1" text-anchor="end" font-size="13" font-weight="bold" font-family="'Liberation Serif', serif">0</text>
<path d="M392.7 462.6H396.6" stroke="#000" stroke-width="1.2"/>
<text x="389.3" y="466.5" text-anchor="end" font-size="13" font-weight="bold" font-family="'Liberation Serif', serif">20</text>
<path d="M392.7 427H396.6" stroke="#000" stroke-width="1.2"/>
<text x="389.3" y="430.9" text-anchor="end" font-size="13" font-weight="bold" font-family="'Liberation Serif', serif">40</text>
<path d="M392.7 391.4H396.6" stroke="#000" stroke-width="1.2"/>
<text x="389.3" y="395.3" text-anchor="end" font-size="13" font-weight="bold" font-family="'Liberation Serif', serif">60</text>
<path d="M392.7 355.8H396.6" stroke="#000" stroke-width="1.2"/>
<text x="389.3" y="359.7" text-anchor="end" font-size="13" font-weight="bold" font-family="'Liberation Serif', serif">80</text>
<path d="M392.7 320.2H396.6" stroke="#000" stroke-width="1.2"/>
<text x="389.3" y="324.1" text-anchor="end" font-size="13" font-weight="bold" font-family="'Liberation Serif', serif">100</text>
<path d="M392.7 284.6H396.6" stroke="#000" stroke-width="1.2"/>
<text x="389.3" y="288.5" text-anchor="end" font-size="13" font-weight="bold" font-family="'Liberation Serif', serif">120</text>
<path d="M396.6 498.2V502.1" stroke="#000" stroke-width="1.2"/>
<text x="397.3" y="515.3" text-anchor="middle" font-size="13" font-weight="bold" font-family="'Liberation Serif', serif">0</text>
<path d="M444.6 498.2V502.1" stroke="#000" stroke-width="1.2"/>
<text x="445.3" y="515.3" text-anchor="middle" font-size="13" font-weight="bold" font-family="'Liberation Serif', serif">1.85</text>
<path d="M540.4 498.2V502.1" stroke="#000" stroke-width="1.2"/>
<text x="541.1" y="515.3" text-anchor="middle" font-size="13" font-weight="bold" font-family="'Liberation Serif', serif">5.56</text>
<path d="M636.6 498.2V502.1" stroke="#000" stroke-width="1.2"/>
<text x="637.3" y="515.3" text-anchor="middle" font-size="13" font-weight="bold" font-family="'Liberation Serif', serif">9.27</text>
<text x="462.3" y="533.5" font-size="14.8" font-weight="bold" font-family="'Liberation Serif', serif">Cellulase dosage (mg/g)</text>
<text transform="translate(361,391.6) rotate(-90)" x="0" y="0" text-anchor="middle" font-size="14.9" font-weight="bold" font-family="'Liberation Serif', serif">Cellulose Conversion (%)</text>
<text x="400.8" y="303.6" font-size="19" font-weight="bold" font-family="'Liberation Serif', serif">(d)</text>
<text x="430.9" y="303.6" font-size="19" font-weight="bold" font-family="'Liberation Serif', serif">AC</text>
<rect x="504.7" y="288.4" width="21.2" height="10.2" fill="url(#p60)" stroke="#000000" stroke-width="1.2"/>
<text x="528.5" y="296.1" font-size="9.6" font-family="'Liberation Serif', serif" fill="#000">6h Control</text>
<rect x="572.1" y="288.4" width="21.2" height="10.2" fill="url(#p70)" stroke="#808000" stroke-width="1.2"/>
<text x="595.9" y="296.1" font-size="9.6" font-family="'Liberation Serif', serif" fill="#000">72h Control</text>
<rect x="504.7" y="300.35" width="21.2" height="10.2" fill="url(#p61)" stroke="#ff0000" stroke-width="1.2"/>
<text x="528.5" y="308.05" font-size="9.6" font-family="'Liberation Serif', serif" fill="#000">6h 2g/L</text>
<rect x="572.1" y="300.35" width="21.2" height="10.2" fill="url(#p71)" stroke="#000080" stroke-width="1.2"/>
<text x="595.9" y="308.05" font-size="9.6" font-family="'Liberation Serif', serif" fill="#000">72h 2g/L</text>
<rect x="504.7" y="312.3" width="21.2" height="10.2" fill="url(#p62)" stroke="#00ff00" stroke-width="1.2"/>
<text x="528.5" y="320" font-size="9.6" font-family="'Liberation Serif', serif" fill="#000">6h 4g/L</text>
<rect x="572.1" y="312.3" width="21.2" height="10.2" fill="url(#p72)" stroke="#800080" stroke-width="1.2"/>
<text x="595.9" y="320" font-size="9.6" font-family="'Liberation Serif', serif" fill="#000">72h 4g/L</text>
<rect x="504.7" y="324.25" width="21.2" height="10.2" fill="url(#p63)" stroke="#0000ff" stroke-width="1.2"/>
<text x="528.5" y="331.95" font-size="9.6" font-family="'Liberation Serif', serif" fill="#000">6h 6g/L</text>
<rect x="572.1" y="324.25" width="21.2" height="10.2" fill="url(#p73)" stroke="#800000" stroke-width="1.2"/>
<text x="595.9" y="331.95" font-size="9.6" font-family="'Liberation Serif', serif" fill="#000">72h 6g/L</text>
<rect x="504.7" y="336.2" width="21.2" height="10.2" fill="url(#p64)" stroke="#00ffff" stroke-width="1.2"/>
<text x="528.5" y="343.9" font-size="9.6" font-family="'Liberation Serif', serif" fill="#000">6h 8g/L</text>
<rect x="572.1" y="336.2" width="21.2" height="10.2" fill="url(#p74)" stroke="#008000" stroke-width="1.2"/>
<text x="595.9" y="343.9" font-size="9.6" font-family="'Liberation Serif', serif" fill="#000">72h 8g/L</text>
<rect x="504.7" y="348.15" width="21.2" height="10.2" fill="url(#p65)" stroke="#ff00ff" stroke-width="1.2"/>
<text x="528.5" y="355.85" font-size="9.6" font-family="'Liberation Serif', serif" fill="#000">6h 10g/L</text>
<rect x="572.1" y="348.15" width="21.2" height="10.2" fill="url(#p75)" stroke="#008080" stroke-width="1.2"/>
<text x="595.9" y="355.85" font-size="9.6" font-family="'Liberation Serif', serif" fill="#000">72h 10g/L</text>
</svg>
</body></html>
